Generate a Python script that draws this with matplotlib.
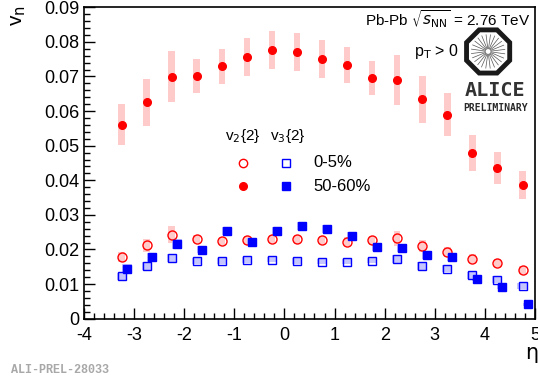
#!/usr/bin/env python3
"""v_n{2} vs eta for two centrality classes, ALICE preliminary style."""

import matplotlib
matplotlib.use("Agg")
import matplotlib.pyplot as plt
import numpy as np
from matplotlib.patches import Rectangle, Polygon
from matplotlib.ticker import MultipleLocator

eta = [-3.25, -2.75, -2.25, -1.75, -1.25, -0.75, -0.25, 0.25, 0.75,
       1.25, 1.75, 2.25, 2.75, 3.25, 3.75, 4.25, 4.75]

# v2{2}, 50-60%
v2_periph = [0.0561, 0.0625, 0.0699, 0.0701, 0.0729, 0.0756, 0.0776, 0.0772, 0.0750,
             0.0733, 0.0695, 0.0690, 0.0634, 0.0590, 0.0478, 0.0435, 0.0386]
v2_periph_sys = [0.0059, 0.0067, 0.0074, 0.0050, 0.0051, 0.0054, 0.0054, 0.0055, 0.0054,
                 0.0052, 0.0049, 0.0073, 0.0068, 0.0062, 0.0052, 0.0046, 0.0041]
v2_periph_stat = [0.0010, 0.0008, 0.0006, 0.0006, 0.0006, 0.0006, 0.0006, 0.0006, 0.0006,
                  0.0006, 0.0006, 0.0006, 0.0006, 0.0006, 0.0006, 0.0006, 0.0008]

# v2{2}, 0-5%
v2_central = [0.0179, 0.0212, 0.0243, 0.0230, 0.0225, 0.0226, 0.0230, 0.0229, 0.0228,
              0.0223, 0.0226, 0.0232, 0.0210, 0.0192, 0.0173, 0.0161, 0.0140]
v2_central_sys = [0.0015, 0.0018, 0.0025, 0.0012, 0.0012, 0.0012, 0.0012, 0.0012, 0.0012,
                  0.0012, 0.0012, 0.0022, 0.0018, 0.0015, 0.0013, 0.0012, 0.0011]

# v3{2}, 0-5%
v3_central = [0.0122, 0.0152, 0.0175, 0.0167, 0.0167, 0.0169, 0.0171, 0.0167, 0.0165,
              0.0165, 0.0168, 0.0172, 0.0152, 0.0144, 0.0125, 0.0113, 0.0094]
v3_central_sys = [0.0011, 0.0011, 0.0012, 0.0008, 0.0008, 0.0008, 0.0008, 0.0008, 0.0008,
                  0.0008, 0.0008, 0.0011, 0.0011, 0.0010, 0.0009, 0.0009, 0.0008]

# v3{2}, 50-60%
v3_periph = [0.0145, 0.0177, 0.0216, 0.0199, 0.0254, 0.0223, 0.0253, 0.0267, 0.0260,
             0.0239, 0.0207, 0.0205, 0.0184, 0.0177, 0.0116, 0.0091, 0.0042]
v3_periph_sys = [0.0012, 0.0013, 0.0015, 0.0010, 0.0012, 0.0010, 0.0012, 0.0012, 0.0012,
                 0.0011, 0.0010, 0.0012, 0.0012, 0.0011, 0.0008, 0.0006, 0.0004]
v3_periph_stat = [0.0005, 0.0005, 0.0006, 0.0006, 0.0010, 0.0006, 0.0008, 0.0006, 0.0008,
                  0.0008, 0.0006, 0.0006, 0.0006, 0.0006, 0.0004, 0.0004, 0.0004]

RED = "#ff0000"
BLUE = "#0000ff"
PINK = "#ffcaca"
LIGHTBLUE = "#c4c4ff"

plt.rcParams["font.family"] = ["Liberation Sans", "DejaVu Sans"]
plt.rcParams["axes.unicode_minus"] = False

fig = plt.figure(figsize=(5.38, 3.81), dpi=100)
ax = fig.add_axes([0.156, 0.1635, 0.8385, 0.8175])


def sys_boxes(x, y, dy, color, width=0.13):
    for xi, yi, di in zip(x, y, dy):
        ax.add_patch(Rectangle((xi - width / 2, yi - di), width, 2 * di,
                               facecolor=color, edgecolor="none", zorder=1))


eta_arr = np.array(eta)
eta_shift = eta_arr + 0.1

sys_boxes(eta_arr, v2_periph, v2_periph_sys, PINK)
sys_boxes(eta_arr, v2_central, v2_central_sys, PINK)
sys_boxes(eta_arr, v3_central, v3_central_sys, LIGHTBLUE, width=0.2)
sys_boxes(eta_shift, v3_periph, v3_periph_sys, LIGHTBLUE, width=0.2)

ax.errorbar(eta_arr, v2_periph, yerr=v2_periph_stat, fmt="o", color=RED, ms=5.5,
            elinewidth=1.0, capsize=0, zorder=3)
ax.plot(eta_arr, v2_central, "o", mfc="none", mec=RED, ms=6.5, mew=1.0, zorder=3)
ax.plot(eta_arr, v3_central, "s", mfc="none", mec=BLUE, ms=6, mew=1.0, zorder=3)
ax.errorbar(eta_shift, v3_periph, yerr=v3_periph_stat, fmt="s", color=BLUE, ms=5.5,
            elinewidth=1.0, capsize=0, zorder=3)

ax.set_xlim(-4, 5)
ax.set_ylim(0, 0.09)
ax.xaxis.set_major_locator(MultipleLocator(1))
ax.xaxis.set_minor_locator(MultipleLocator(0.2))
ax.yaxis.set_minor_locator(MultipleLocator(0.002))
ax.set_yticks(np.arange(0, 0.091, 0.01))
ax.set_yticklabels(["0"] + [f"{v:.2f}" for v in np.arange(0.01, 0.091, 0.01)])
ax.tick_params(which="both", direction="in", top=False, right=False, labelsize=13)
ax.tick_params(which="major", length=8, width=1.0)
ax.tick_params(which="minor", length=4, width=1.0)
ax.tick_params(axis="x", pad=6)
for spine in ax.spines.values():
    spine.set_linewidth(1.2)

fig.text(0.035, 0.985, r"v$_{\rm n}$", rotation=90, ha="center", va="top", fontsize=15)
fig.text(0.988, 0.073, "η", ha="center", va="center", fontsize=15,
         family=["DejaVu Sans"])
fig.text(0.02, 0.012, "ALI-PREL-28033", family=["Liberation Mono", "DejaVu Sans Mono"],
         fontsize=8.5, color="#a8a8a8", fontweight="bold", ha="left", va="bottom")

# legend block
ax.text(0.352, 0.586, r"v$_2${2}", transform=ax.transAxes, fontsize=11, ha="center", va="center")
ax.text(0.452, 0.586, r"v$_3${2}", transform=ax.transAxes, fontsize=11, ha="center", va="center")
ax.plot([0.352], [0.50], "o", mfc="none", mec=RED, ms=6, mew=1.0, transform=ax.transAxes)
ax.plot([0.352], [0.425], "o", color=RED, ms=5.5, transform=ax.transAxes)
ax.plot([0.448], [0.50], "s", mfc="none", mec=BLUE, ms=6, mew=1.0, transform=ax.transAxes)
ax.plot([0.448], [0.425], "s", color=BLUE, ms=5.5, transform=ax.transAxes)
ax.text(0.508, 0.50, "0-5%", transform=ax.transAxes, fontsize=12, ha="left", va="center")
ax.text(0.508, 0.425, "50-60%", transform=ax.transAxes, fontsize=12, ha="left", va="center")

# header
ax.text(0.99, 0.995, r"Pb-Pb $\sqrt{s_{\rm NN}}$ = 2.76 TeV", transform=ax.transAxes,
        fontsize=11, ha="right", va="top")
ax.text(0.83, 0.89, r"p$_{\rm T}$ > 0", transform=ax.transAxes, fontsize=11.5,
        ha="right", va="top")

# ALICE logo
cx, cy, r = 0.896, 0.858, 0.075
aspect = ax.get_position().height * fig.get_figheight() / (ax.get_position().width * fig.get_figwidth())
ang = np.deg2rad(22.5 + 45 * np.arange(8))
oct_pts = np.column_stack([cx + r * aspect * np.cos(ang), cy + r * np.sin(ang)])
ax.add_patch(Polygon(oct_pts, closed=True, fill=False, edgecolor="#1a1a1a", linewidth=3.5,
                     transform=ax.transAxes, joinstyle="miter"))
ray = np.deg2rad(np.arange(0, 360, 15) + 7)
for a in ray:
    ax.plot([cx + 0.12 * r * aspect * np.cos(a), cx + 0.72 * r * aspect * np.cos(a)],
            [cy + 0.12 * r * np.sin(a), cy + 0.72 * r * np.sin(a)],
            color="#555555", linewidth=0.5, transform=ax.transAxes)
ax.text(0.911, 0.734, "ALICE", transform=ax.transAxes, fontsize=14.5,
        family=["DejaVu Sans Mono"], fontweight="bold", color="#333333",
        ha="center", va="center")
ax.text(0.913, 0.677, "PRELIMINARY", transform=ax.transAxes, fontsize=7,
        family=["DejaVu Sans Mono"], fontweight="bold", color="#2a2a2a", ha="center", va="center")

fig.savefig("out.png", dpi=100)
